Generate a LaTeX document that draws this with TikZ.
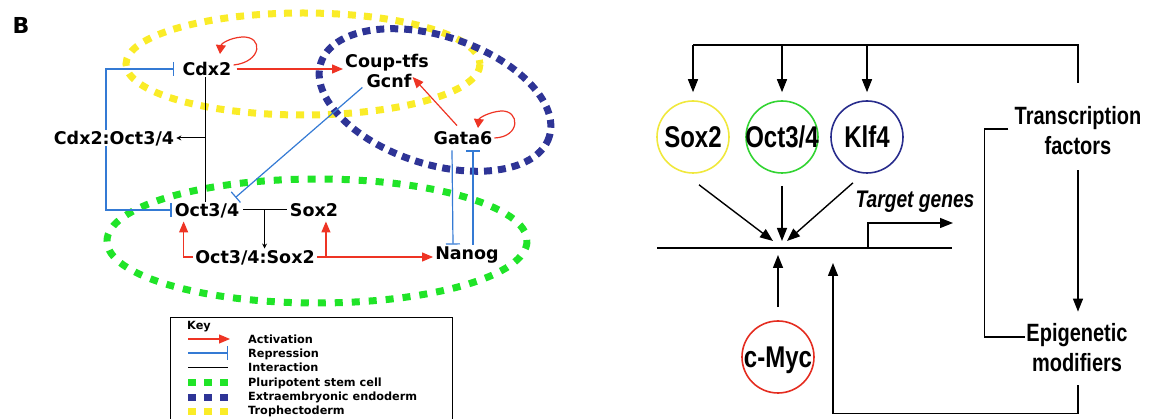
\documentclass[tikz,border=0pt]{standalone}
\usepackage{fontspec}
\usetikzlibrary{arrows.meta,calc}
\newfontfamily\lf{DejaVu Sans}
\newfontfamily\rf{Liberation Sans}[FakeStretch=0.8]
\definecolor{actred}{RGB}{238,52,36}
\definecolor{repblue}{RGB}{52,122,212}
\definecolor{ydash}{RGB}{250,236,40}
\definecolor{bdash}{RGB}{46,52,150}
\definecolor{gdash}{RGB}{32,228,40}
\definecolor{cyel}{RGB}{240,232,60}
\definecolor{cgrn}{RGB}{50,212,50}
\definecolor{cnav}{RGB}{40,44,140}
\definecolor{cred}{RGB}{228,44,32}
\begin{document}
\begin{tikzpicture}[x=1pt,y=-1pt,
  lab/.style={font=\lf\bfseries\fontsize{17.5}{20}\selectfont, text height=12.5pt, text depth=0pt, inner sep=2pt},
  keylab/.style={font=\lf\bfseries\fontsize{11.3}{13}\selectfont, text height=8pt, text depth=0pt, inner sep=0pt, anchor=west},
  act/.style={actred, line width=1.2pt, -{Triangle[length=11pt,width=9pt]}},
  actloop/.style={actred, line width=1.2pt, -{Triangle[length=9pt,width=10pt]}},
  rep/.style={repblue, line width=1.2pt, -{Bar[width=14pt,line width=1.2pt]}},
  inter/.style={black, line width=1pt},
  interarr/.style={black, line width=1pt, -{Stealth[length=5pt,width=5pt]}},
  ydashed/.style={ydash, line width=7pt, dash pattern=on 8pt off 8pt},
  bdashed/.style={bdash, line width=7pt, dash pattern=on 8pt off 6pt},
  gdashed/.style={gdash, line width=7pt, dash pattern=on 8pt off 9pt},
  circ/.style={circle, minimum size=72pt, line width=1.6pt, inner sep=0pt},
  rlab/.style={font=\rf\bfseries\fontsize{30}{34}\selectfont, text height=21.5pt, text depth=0pt, inner sep=0pt},
  rtext/.style={font=\rf\bfseries\fontsize{25}{30}\selectfont, align=center, inner sep=0pt},
  rarr/.style={black, line width=1.4pt, -{Triangle[length=13pt,width=10pt]}},
  rline/.style={black, line width=1.4pt}]
\useasboundingbox (0,0) rectangle (1149,419);

% ---------------- left panel ----------------
\node[font=\lf\bfseries\fontsize{22}{24}\selectfont, inner sep=0pt] (blab) at (21,25) {B};

% lineage ellipses
\draw[ydashed] (303,64) ellipse [x radius=177, y radius=51];
\draw[bdashed, shift={(435,100)}, rotate=-18] (0,0) ellipse [x radius=120, y radius=64];
\draw[gdashed] (317,241) ellipse [x radius=210, y radius=62];

% nodes
\node[lab] (cdx2) at (207,69) {Cdx2};
\node[lab] (coup) at (387,61) {Coup-tfs};
\node[lab] (gcnf) at (389,81) {Gcnf};
\node[lab] (gata6) at (463,138) {Gata6};
\node[lab] (cdxoct) at (114,138) {Cdx2:Oct3/4};
\node[lab] (oct) at (207,210) {Oct3/4};
\node[lab] (sox) at (314,210) {Sox2};
\node[lab] (octsox) at (255,257) {Oct3/4:Sox2};
\node[lab] (nanog) at (467,253) {Nanog};

% Cdx2 self activation
\draw[actloop] ($(cdx2.east)+(0,-4)$) .. controls (262,62) and (264,36) .. (242,37)
  .. controls (229,38) and (221,44) .. (220,54);
% Cdx2 -> Coup-tfs
\draw[act] ($(cdx2.east)+(3,0)$) -- (cdx2.east -| coup.west);
% Gata6 -> Gcnf
\draw[act] ($(gata6.north)+(-6,-4)$) -- ($(gcnf.east)+(-1,-4)$);
% Gata6 self activation
\draw[actloop] (gata6.east) .. controls (521,137) and (520,110) .. (501,111)
  .. controls (489,112) and (479,118) .. (478,128);
% Gcnf -| Oct3/4
\draw[rep] ($(gcnf.south west)+(-2,-2)$) -- ($(oct.north east)+(-6,-4)$);
% Cdx2 -- Oct3/4 interaction with arrow to complex
\coordinate (cdxv) at ($(cdx2.south)+(-2,0)$);
\draw[inter] (cdxv) -- ($(oct.north)+(-2,0)$);
\draw[interarr] (cdxv |- cdxoct.east) -- (cdxoct.east);
% Cdx2:Oct3/4 represses Cdx2 and Oct3/4
\draw[rep] ($(cdxoct.north)+(-8,0)$) |- ($(cdx2.west)+(-6,0)$);
\draw[rep] ($(cdxoct.south)+(-8,0)$) |- ($(oct.west)+(-1,0)$);
% Oct3/4 -- Sox2 interaction, forming complex
\draw[inter] ($(oct.east)+(2,0)$) -- ($(sox.west)+(-1,0)$);
\coordinate (osmid) at ($(oct.east)!0.5!(sox.west)$);
\draw[interarr] (osmid) -- (osmid |- octsox.north);
% complex activates Oct3/4, Sox2, Nanog
\draw[act] (octsox.west) -| ($(oct.south west)+(11,3)$);
\draw[act] (octsox.east) -- (octsox.east -| nanog.west);
\coordinate (osj) at ($(octsox.east)+(9,0)$);
\coordinate (soxb) at ($(sox.south)+(0,3)$);
\draw[act] (osj) -- (osj |- soxb);
% Gata6 -| Nanog, Nanog -| Gata6
\draw[rep] ($(gata6.south)+(-11,4)$) -- ($(nanog.north)+(-14,0)$);
\draw[rep] ($(nanog.north)+(6,0)$) -- ($(gata6.south)+(10,4)$);

% key
\draw[black, line width=0.8pt] (170,420) -- (170,317) -- (452,317) -- (452,420);
\node[keylab] (keyt) at (187,326) {Key};
\draw[act] (188,339) -- (230,339);
\node[keylab] (k1) at (248,340) {Activation};
\draw[rep] (188,353) -- (228,353);
\node[keylab] (k2) at (248,354) {Repression};
\draw[inter] (188,368) -- (228,368);
\node[keylab] (k3) at (248,368) {Interaction};
\foreach \xx in {188,204,220} {
  \fill[gdash] (\xx,379) rectangle +(8,7);
  \fill[bdash] (\xx,394) rectangle +(8,7);
  \fill[ydash] (\xx,408) rectangle +(8,7);
}
\node[keylab] (k4) at (248,383) {Pluripotent stem cell};
\node[keylab] (k5) at (248,397) {Extraembryonic endoderm};
\node[keylab] (k6) at (248,411) {Trophectoderm};

% ---------------- right panel ----------------
\node[circ, draw=cyel] (soxc) at (693,137) {};
\node[circ, draw=cgrn] (octc) at (782,137) {};
\node[circ, draw=cnav] (klfc) at (867,137) {};
\node[circ, draw=cred] (mycc) at (778,357) {};
\node[rlab] (soxt) at (soxc) {Sox2};
\node[rlab] (octt) at (octc) {Oct3/4};
\node[rlab] (klft) at (klfc) {Klf4};
\node[rlab] (myct) at (mycc) {c-Myc};

\node[rtext] (tf) at (1078,131) {Transcription\\factors};
\node[rtext] (epi) at (1077,348) {Epigenetic\\modifiers};
\node[font=\rf\bfseries\itshape\fontsize{24}{28}\selectfont, inner sep=0pt] (tg) at (915,202) {Target genes};

% promoter line
\coordinate (lineL) at (657,248);
\coordinate (lineR) at (952,248);
\coordinate (hub) at (782,248);
\draw[rline] (lineL) -- (lineR);

% top feedback from transcription factors
\coordinate (top) at (1078,45);
\draw[rline] ($(tf.north)+(0,-24)$) -- (top) -- (top -| soxc);
\draw[rarr] (top -| soxc) -- ($(soxc.north)+(0,-8)$);
\draw[rarr] (top -| octc) -- ($(octc.north)+(0,-8)$);
\draw[rarr] (top -| klfc) -- ($(klfc.north)+(0,-8)$);

% converging arrows
\draw[rarr] ($(soxc.south)+(6,11)$) -- ($(hub)+(-9,-7)$);
\draw[rarr] ($(octc.south)+(0,12)$) -- ($(hub)+(0,-7)$);
\draw[rarr] ($(klfc.south)+(-14,9)$) -- ($(hub)+(5,-7)$);
\coordinate (mycup) at ($(mycc.north)+(0,-13)$);
\draw[rarr] (mycup) -- ($(mycup |- hub)+(0,7)$);

% target genes output
\coordinate (tgtip) at ($(lineR)+(1,-25)$);
\draw[rarr] (868,248) |- (tgtip);

% bracket between TF and epigenetic modifiers
\draw[rline] ($(tf.west)+(-6,-2)$) -| ($(tf.west)+(-30,0)$) |- ($(epi.west)+(-1,-11)$);
% TF -> epigenetic modifiers
\draw[rarr] ($(tf.south)+(0,15)$) -- ($(epi.north)+(1,-12)$);
% epigenetic feedback to promoter
\draw[rarr] ($(epi.south)+(1,13)$) -- ($(epi.south)+(1,41)$) -| ($(lineL)+(176,15)$);
\end{tikzpicture}
\end{document}
